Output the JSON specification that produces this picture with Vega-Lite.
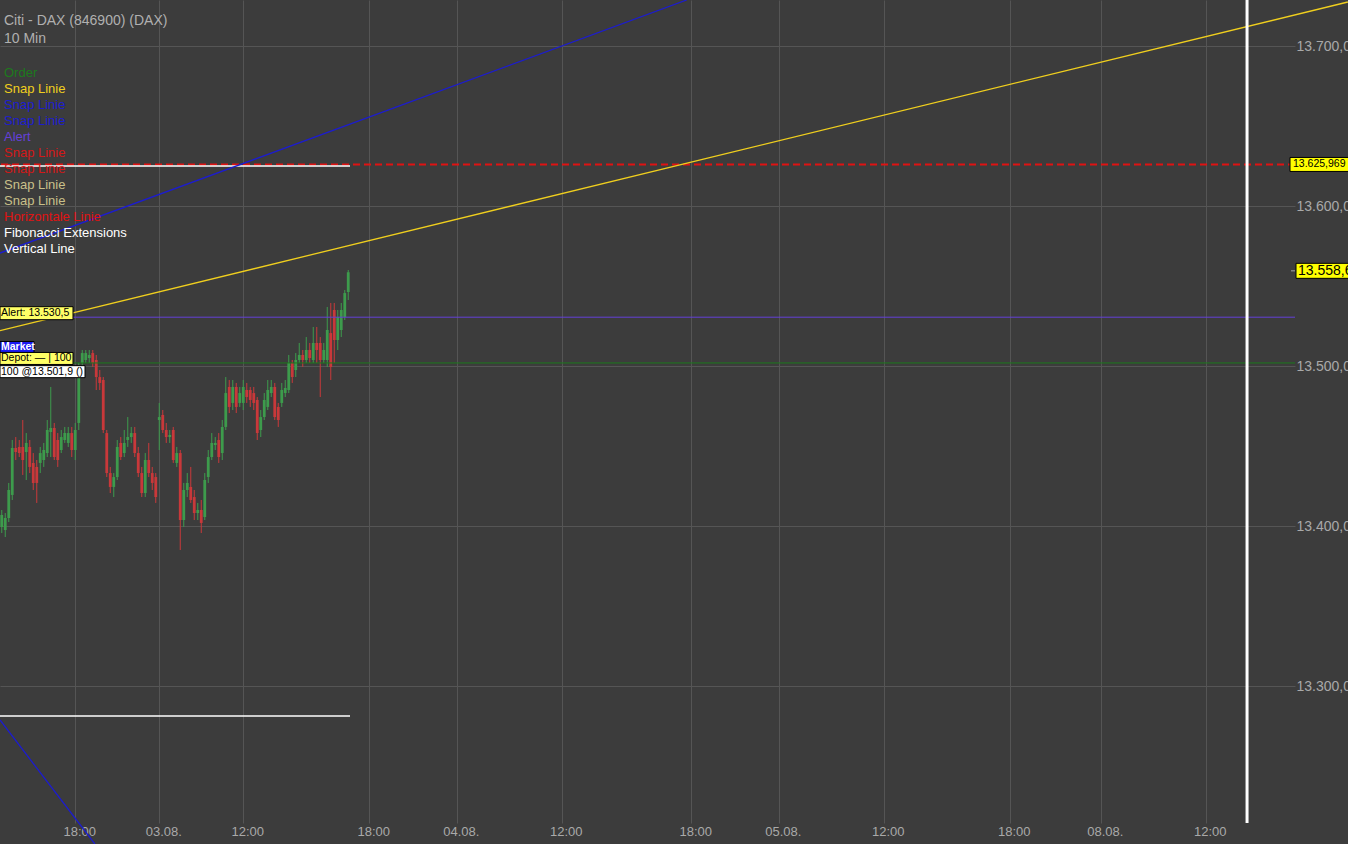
{
  "$schema": "https://vega.github.io/schema/vega-lite/v6.json",
  "width": 1295,
  "height": 823,
  "autosize": {"type": "none"},
  "padding": {"left": 0, "top": 0, "right": 53, "bottom": 21},
  "background": "#3c3c3c",
  "config": {
    "view": {"stroke": null},
    "font": "Liberation Sans",
    "axis": {"grid": true, "gridColor": "#555555", "gridWidth": 1, "ticks": false, "tickSize": 0, "domain": false, "labelColor": "#a9a9a9", "labelFont": "Liberation Sans"},
    "axisX": {"labelFontSize": 13, "labelPadding": 2, "labelOffset": 4},
    "axisY": {"labelFontSize": 14, "labelPadding": 1, "labelAlign": "left", "labelBaseline": "middle"}
  },
  "datasets": {
    "candles": [
      {"x":0,"o":13399.4,"h":13410.0,"l":13395.6,"c":13406.9},
      {"x":1,"o":13397.5,"h":13408.1,"l":13393.1,"c":13405.0},
      {"x":2,"o":13405.0,"h":13426.9,"l":13402.5,"c":13422.5},
      {"x":3,"o":13419.4,"h":13453.75,"l":13416.25,"c":13448.75},
      {"x":4,"o":13448.75,"h":13455.6,"l":13441.25,"c":13446.25},
      {"x":5,"o":13449.4,"h":13453.75,"l":13443.1,"c":13445.6},
      {"x":6,"o":13449.4,"h":13466.25,"l":13431.9,"c":13441.25},
      {"x":7,"o":13446.25,"h":13458.1,"l":13428.75,"c":13451.9},
      {"x":8,"o":13449.4,"h":13453.75,"l":13433.1,"c":13436.9},
      {"x":9,"o":13439.4,"h":13445.6,"l":13422.5,"c":13426.9},
      {"x":10,"o":13436.9,"h":13441.25,"l":13414.4,"c":13426.9},
      {"x":11,"o":13439.4,"h":13449.4,"l":13433.1,"c":13445.6},
      {"x":12,"o":13441.25,"h":13451.9,"l":13436.9,"c":13447.5},
      {"x":13,"o":13445.6,"h":13466.25,"l":13443.1,"c":13460.0},
      {"x":14,"o":13458.75,"h":13486.9,"l":13443.1,"c":13461.25},
      {"x":15,"o":13461.25,"h":13464.4,"l":13441.25,"c":13443.1},
      {"x":16,"o":13453.75,"h":13458.1,"l":13436.9,"c":13441.25},
      {"x":17,"o":13447.5,"h":13460.0,"l":13445.6,"c":13455.6},
      {"x":18,"o":13453.75,"h":13461.9,"l":13451.9,"c":13458.1},
      {"x":19,"o":13451.9,"h":13461.9,"l":13449.4,"c":13458.1},
      {"x":20,"o":13458.1,"h":13461.9,"l":13443.1,"c":13447.5},
      {"x":21,"o":13447.5,"h":13464.4,"l":13441.25,"c":13460.0},
      {"x":22,"o":13464.4,"h":13501.9,"l":13460.0,"c":13497.5},
      {"x":23,"o":13501.9,"h":13510.0,"l":13497.5,"c":13508.1},
      {"x":24,"o":13503.75,"h":13510.0,"l":13501.9,"c":13508.1},
      {"x":25,"o":13505.0,"h":13510.0,"l":13501.9,"c":13506.9},
      {"x":26,"o":13508.1,"h":13510.0,"l":13499.4,"c":13501.9},
      {"x":27,"o":13503.75,"h":13506.9,"l":13485.0,"c":13493.1},
      {"x":28,"o":13493.1,"h":13497.5,"l":13485.0,"c":13489.4},
      {"x":29,"o":13491.25,"h":13493.1,"l":13458.1,"c":13460.0},
      {"x":30,"o":13458.1,"h":13460.0,"l":13430.6,"c":13433.1},
      {"x":31,"o":13433.1,"h":13436.9,"l":13420.6,"c":13424.4},
      {"x":32,"o":13424.4,"h":13433.1,"l":13418.1,"c":13430.6},
      {"x":33,"o":13430.6,"h":13453.75,"l":13428.75,"c":13449.4},
      {"x":34,"o":13451.9,"h":13455.6,"l":13441.25,"c":13443.1},
      {"x":35,"o":13445.6,"h":13460.0,"l":13443.1,"c":13451.9},
      {"x":36,"o":13453.75,"h":13468.1,"l":13449.4,"c":13455.6},
      {"x":37,"o":13455.6,"h":13461.9,"l":13451.9,"c":13458.1},
      {"x":38,"o":13458.1,"h":13461.9,"l":13443.1,"c":13445.6},
      {"x":39,"o":13445.6,"h":13449.4,"l":13430.6,"c":13433.1},
      {"x":40,"o":13433.1,"h":13436.9,"l":13418.1,"c":13420.6},
      {"x":41,"o":13420.6,"h":13445.6,"l":13418.1,"c":13441.25},
      {"x":42,"o":13441.25,"h":13451.9,"l":13430.6,"c":13433.1},
      {"x":43,"o":13433.1,"h":13436.9,"l":13422.5,"c":13426.9},
      {"x":44,"o":13430.6,"h":13433.1,"l":13414.4,"c":13418.1},
      {"x":45,"o":13466.25,"h":13476.9,"l":13447.5,"c":13468.1},
      {"x":46,"o":13469.4,"h":13472.5,"l":13458.1,"c":13460.0},
      {"x":47,"o":13460.0,"h":13464.4,"l":13451.9,"c":13455.6},
      {"x":48,"o":13455.6,"h":13460.0,"l":13451.9,"c":13456.9},
      {"x":49,"o":13460.0,"h":13461.9,"l":13439.4,"c":13441.25},
      {"x":50,"o":13439.4,"h":13449.4,"l":13436.9,"c":13445.6},
      {"x":51,"o":13445.6,"h":13447.5,"l":13385.0,"c":13403.75},
      {"x":52,"o":13403.75,"h":13426.9,"l":13399.4,"c":13422.5},
      {"x":53,"o":13422.5,"h":13433.1,"l":13418.1,"c":13426.9},
      {"x":54,"o":13424.4,"h":13436.9,"l":13414.4,"c":13416.25},
      {"x":55,"o":13418.1,"h":13422.5,"l":13403.75,"c":13408.1},
      {"x":56,"o":13408.1,"h":13414.4,"l":13403.75,"c":13410.0},
      {"x":57,"o":13410.0,"h":13416.25,"l":13395.6,"c":13401.9},
      {"x":58,"o":13405.6,"h":13433.1,"l":13403.75,"c":13428.75},
      {"x":59,"o":13430.6,"h":13447.5,"l":13426.9,"c":13443.1},
      {"x":60,"o":13443.1,"h":13458.1,"l":13441.25,"c":13451.9},
      {"x":61,"o":13450.6,"h":13455.6,"l":13447.5,"c":13451.9},
      {"x":62,"o":13453.75,"h":13458.1,"l":13439.4,"c":13443.1},
      {"x":63,"o":13445.6,"h":13466.25,"l":13441.25,"c":13461.9},
      {"x":64,"o":13461.9,"h":13493.1,"l":13460.0,"c":13483.1},
      {"x":65,"o":13486.9,"h":13491.25,"l":13470.6,"c":13474.4},
      {"x":66,"o":13476.9,"h":13491.25,"l":13472.5,"c":13486.9},
      {"x":67,"o":13486.9,"h":13489.4,"l":13470.6,"c":13474.4},
      {"x":68,"o":13476.9,"h":13486.9,"l":13474.4,"c":13483.1},
      {"x":69,"o":13476.9,"h":13491.25,"l":13472.5,"c":13486.9},
      {"x":70,"o":13485.0,"h":13489.4,"l":13476.9,"c":13480.6},
      {"x":71,"o":13485.0,"h":13486.9,"l":13474.4,"c":13478.75},
      {"x":72,"o":13483.1,"h":13486.9,"l":13472.5,"c":13476.9},
      {"x":73,"o":13478.75,"h":13480.6,"l":13453.75,"c":13458.1},
      {"x":74,"o":13460.0,"h":13472.5,"l":13455.6,"c":13468.1},
      {"x":75,"o":13468.1,"h":13483.1,"l":13466.25,"c":13478.75},
      {"x":76,"o":13474.4,"h":13491.25,"l":13472.5,"c":13485.0},
      {"x":77,"o":13483.1,"h":13491.25,"l":13480.6,"c":13486.9},
      {"x":78,"o":13486.9,"h":13489.4,"l":13466.25,"c":13468.1},
      {"x":79,"o":13474.4,"h":13476.9,"l":13461.9,"c":13466.25},
      {"x":80,"o":13476.9,"h":13489.4,"l":13474.4,"c":13485.0},
      {"x":81,"o":13483.1,"h":13491.25,"l":13480.6,"c":13486.25},
      {"x":82,"o":13485.0,"h":13506.9,"l":13483.1,"c":13501.9},
      {"x":83,"o":13501.9,"h":13503.75,"l":13489.4,"c":13493.1},
      {"x":84,"o":13497.5,"h":13508.1,"l":13493.1,"c":13503.75},
      {"x":85,"o":13503.75,"h":13514.4,"l":13501.9,"c":13506.9},
      {"x":86,"o":13506.9,"h":13510.0,"l":13499.4,"c":13503.75},
      {"x":87,"o":13503.75,"h":13518.1,"l":13501.9,"c":13510.0},
      {"x":88,"o":13510.0,"h":13514.4,"l":13501.9,"c":13505.0},
      {"x":89,"o":13503.75,"h":13524.4,"l":13501.9,"c":13514.4},
      {"x":90,"o":13514.4,"h":13524.4,"l":13501.9,"c":13510.0},
      {"x":91,"o":13514.4,"h":13518.1,"l":13480.6,"c":13503.75},
      {"x":92,"o":13503.75,"h":13514.4,"l":13501.9,"c":13510.0},
      {"x":93,"o":13503.75,"h":13536.9,"l":13499.4,"c":13522.5},
      {"x":94,"o":13520.6,"h":13539.4,"l":13491.25,"c":13499.4},
      {"x":95,"o":13535.0,"h":13539.4,"l":13501.9,"c":13516.25},
      {"x":96,"o":13516.25,"h":13535.0,"l":13510.0,"c":13530.6},
      {"x":97,"o":13522.5,"h":13539.4,"l":13518.1,"c":13535.0},
      {"x":98,"o":13530.6,"h":13547.5,"l":13528.75,"c":13545.6},
      {"x":99,"o":13546.25,"h":13560.0,"l":13541.25,"c":13558.6}
    ],
    "lines": [
      {"name":"Snap Linie|1","x":-0.5,"p":13522.1},
      {"name":"Snap Linie|1","x":384.6,"p":13727.5},
      {"name":"Snap Linie|2","x":-0.5,"p":13570.6},
      {"name":"Snap Linie|2","x":195.7,"p":13728.75},
      {"name":"Snap Linie|3","x":-0.5,"p":13278.75},
      {"name":"Snap Linie|3","x":26.6,"p":13201.25}
    ],
    "levels": [
      {"name":"Order","p":13501.9},
      {"name":"Alert","p":13530.5},
      {"name":"Horizontale Linie","p":13625.969}
    ],
    "fib": [
      {"name":"Fibonacci Extensions","x":-0.5,"x2":99.5,"p":13625.0},
      {"name":"Fibonacci Extensions","x":-0.5,"x2":99.5,"p":13281.25}
    ],
    "vline": [
      {"name":"Vertical Line","x":355.8}
    ],
    "tags": [
      {"key":"level","p":13625.969,"text":"13.625,969"},
      {"key":"last","p":13558.6,"text":"13.558,60"},
      {"key":"alert","p":13530.5,"text":"Alert: 13.530,5"},
      {"key":"market","p":13501.9,"text":"Market"},
      {"key":"depot","p":13501.9,"text":"Depot: — | 100"},
      {"key":"pos","p":13501.9,"text":"100 @13.501,9 ()"}
    ]
  },
  "layer": [
    {
      "data": {"name": "candles"},
      "mark": {"type": "rule", "strokeWidth": 1},
      "encoding": {
        "x": {"field":"x","type":"quantitative","title":null,"scale":{"domain":[-0.5,369.5],"nice":false,"zero":false,"padding":0},"axis":{"values":[21,45,69,105,130,160,197,222,252,288,314,344],"labelExpr":"['18:00','03.08.','12:00','18:00','04.08.','12:00','18:00','05.08.','12:00','18:00','08.08.','12:00'][indexof([21,45,69,105,130,160,197,222,252,288,314,344], datum.value)]"}},
        "y": {"field":"l","type":"quantitative","title":null,"scale":{"domain":[13214.375,13728.75],"nice":false,"zero":false},"axis":{"orient":"right","values":[13300,13400,13500,13600,13700],"labelExpr":"replace(replace(replace(format(datum.value, ',.2f'), ',', '_'), '.', ','), '_', '.')"}},
        "y2": {"field":"h"},
        "color": {"condition": {"test": "datum.c >= datum.o", "value": "#3d9b4c"}, "value": "#c9383a"}
      }
    },
    {
      "data": {"name": "candles"},
      "mark": {"type": "bar", "size": 2.8},
      "encoding": {
        "x": {"field":"x","type":"quantitative","title":null,"scale":{"domain":[-0.5,369.5],"nice":false,"zero":false,"padding":0},"axis":{"values":[21,45,69,105,130,160,197,222,252,288,314,344],"labelExpr":"['18:00','03.08.','12:00','18:00','04.08.','12:00','18:00','05.08.','12:00','18:00','08.08.','12:00'][indexof([21,45,69,105,130,160,197,222,252,288,314,344], datum.value)]"}},
        "y": {"field":"o","type":"quantitative","title":null,"scale":{"domain":[13214.375,13728.75],"nice":false,"zero":false},"axis":{"orient":"right","values":[13300,13400,13500,13600,13700],"labelExpr":"replace(replace(replace(format(datum.value, ',.2f'), ',', '_'), '.', ','), '_', '.')"}},
        "y2": {"field":"c"},
        "color": {"condition": {"test": "datum.c >= datum.o", "value": "#3d9b4c"}, "value": "#c9383a"}
      }
    },
    {
      "data": {"name": "levels"},
      "transform": [{"filter": "datum.name == 'Order' || datum.name == 'Alert'"}],
      "mark": {"type": "rule", "strokeWidth": 1},
      "encoding": {
        "y": {"field":"p","type":"quantitative","title":null,"scale":{"domain":[13214.375,13728.75],"nice":false,"zero":false},"axis":{"orient":"right","values":[13300,13400,13500,13600,13700],"labelExpr":"replace(replace(replace(format(datum.value, ',.2f'), ',', '_'), '.', ','), '_', '.')"}},
        "color": {"field":"name","type":"nominal","scale":{"domain":["Order","Snap Linie|1","Snap Linie|2","Snap Linie|3","Alert","Snap Linie|4","Snap Linie|5","Snap Linie|6","Snap Linie|7","Horizontale Linie","Fibonacci Extensions","Vertical Line"],"range":["#1c7a1c","#f0cf1e","#1c1cd0","#1c1cd0","#6440d8","#d31818","#d31818","#c9c08a","#c9c08a","#e01212","#ffffff","#ffffff"]},"legend":{"orient":"none","legendX":4,"legendY":14,"title":["Citi - DAX (846900) (DAX)","10 Min"],"titleFontSize":14,"titleFontWeight":"normal","titleColor":"#b0b0b0","titleFont":"Liberation Sans","titleLineHeight":18,"titleBaseline":"top","titlePadding":20,"labelFontSize":13,"labelFont":"Liberation Sans","labelExpr":"split(datum.label, '|')[0]","labelLimit":300,"symbolSize":0,"symbolOpacity":0,"symbolStrokeWidth":0,"labelOffset":-13,"padding":0,"rowPadding":2,"encode":{"labels":{"update":{"fill":{"scale":"color","field":"value"}}}}}}
      }
    },
    {
      "data": {"name": "levels"},
      "transform": [{"filter": "datum.name == 'Horizontale Linie'"}],
      "mark": {"type": "rule", "strokeWidth": 2, "strokeDash": [7, 4]},
      "encoding": {
        "y": {"field":"p","type":"quantitative","title":null,"scale":{"domain":[13214.375,13728.75],"nice":false,"zero":false},"axis":{"orient":"right","values":[13300,13400,13500,13600,13700],"labelExpr":"replace(replace(replace(format(datum.value, ',.2f'), ',', '_'), '.', ','), '_', '.')"}},
        "color": {"field":"name","type":"nominal","scale":{"domain":["Order","Snap Linie|1","Snap Linie|2","Snap Linie|3","Alert","Snap Linie|4","Snap Linie|5","Snap Linie|6","Snap Linie|7","Horizontale Linie","Fibonacci Extensions","Vertical Line"],"range":["#1c7a1c","#f0cf1e","#1c1cd0","#1c1cd0","#6440d8","#d31818","#d31818","#c9c08a","#c9c08a","#e01212","#ffffff","#ffffff"]},"legend":{"orient":"none","legendX":4,"legendY":14,"title":["Citi - DAX (846900) (DAX)","10 Min"],"titleFontSize":14,"titleFontWeight":"normal","titleColor":"#b0b0b0","titleFont":"Liberation Sans","titleLineHeight":18,"titleBaseline":"top","titlePadding":20,"labelFontSize":13,"labelFont":"Liberation Sans","labelExpr":"split(datum.label, '|')[0]","labelLimit":300,"symbolSize":0,"symbolOpacity":0,"symbolStrokeWidth":0,"labelOffset":-13,"padding":0,"rowPadding":2,"encode":{"labels":{"update":{"fill":{"scale":"color","field":"value"}}}}}}
      }
    },
    {
      "data": {"name": "fib"},
      "mark": {"type": "rule", "strokeWidth": 1.5},
      "encoding": {
        "x": {"field":"x","type":"quantitative","title":null,"scale":{"domain":[-0.5,369.5],"nice":false,"zero":false,"padding":0},"axis":{"values":[21,45,69,105,130,160,197,222,252,288,314,344],"labelExpr":"['18:00','03.08.','12:00','18:00','04.08.','12:00','18:00','05.08.','12:00','18:00','08.08.','12:00'][indexof([21,45,69,105,130,160,197,222,252,288,314,344], datum.value)]"}},
        "x2": {"field":"x2"},
        "y": {"field":"p","type":"quantitative","title":null,"scale":{"domain":[13214.375,13728.75],"nice":false,"zero":false},"axis":{"orient":"right","values":[13300,13400,13500,13600,13700],"labelExpr":"replace(replace(replace(format(datum.value, ',.2f'), ',', '_'), '.', ','), '_', '.')"}},
        "color": {"field":"name","type":"nominal","scale":{"domain":["Order","Snap Linie|1","Snap Linie|2","Snap Linie|3","Alert","Snap Linie|4","Snap Linie|5","Snap Linie|6","Snap Linie|7","Horizontale Linie","Fibonacci Extensions","Vertical Line"],"range":["#1c7a1c","#f0cf1e","#1c1cd0","#1c1cd0","#6440d8","#d31818","#d31818","#c9c08a","#c9c08a","#e01212","#ffffff","#ffffff"]},"legend":{"orient":"none","legendX":4,"legendY":14,"title":["Citi - DAX (846900) (DAX)","10 Min"],"titleFontSize":14,"titleFontWeight":"normal","titleColor":"#b0b0b0","titleFont":"Liberation Sans","titleLineHeight":18,"titleBaseline":"top","titlePadding":20,"labelFontSize":13,"labelFont":"Liberation Sans","labelExpr":"split(datum.label, '|')[0]","labelLimit":300,"symbolSize":0,"symbolOpacity":0,"symbolStrokeWidth":0,"labelOffset":-13,"padding":0,"rowPadding":2,"encode":{"labels":{"update":{"fill":{"scale":"color","field":"value"}}}}}}
      }
    },
    {
      "data": {"name": "lines"},
      "mark": {"type": "line", "strokeWidth": 1.3, "clip": false},
      "encoding": {
        "x": {"field":"x","type":"quantitative","title":null,"scale":{"domain":[-0.5,369.5],"nice":false,"zero":false,"padding":0},"axis":{"values":[21,45,69,105,130,160,197,222,252,288,314,344],"labelExpr":"['18:00','03.08.','12:00','18:00','04.08.','12:00','18:00','05.08.','12:00','18:00','08.08.','12:00'][indexof([21,45,69,105,130,160,197,222,252,288,314,344], datum.value)]"}},
        "y": {"field":"p","type":"quantitative","title":null,"scale":{"domain":[13214.375,13728.75],"nice":false,"zero":false},"axis":{"orient":"right","values":[13300,13400,13500,13600,13700],"labelExpr":"replace(replace(replace(format(datum.value, ',.2f'), ',', '_'), '.', ','), '_', '.')"}},
        "color": {"field":"name","type":"nominal","scale":{"domain":["Order","Snap Linie|1","Snap Linie|2","Snap Linie|3","Alert","Snap Linie|4","Snap Linie|5","Snap Linie|6","Snap Linie|7","Horizontale Linie","Fibonacci Extensions","Vertical Line"],"range":["#1c7a1c","#f0cf1e","#1c1cd0","#1c1cd0","#6440d8","#d31818","#d31818","#c9c08a","#c9c08a","#e01212","#ffffff","#ffffff"]},"legend":{"orient":"none","legendX":4,"legendY":14,"title":["Citi - DAX (846900) (DAX)","10 Min"],"titleFontSize":14,"titleFontWeight":"normal","titleColor":"#b0b0b0","titleFont":"Liberation Sans","titleLineHeight":18,"titleBaseline":"top","titlePadding":20,"labelFontSize":13,"labelFont":"Liberation Sans","labelExpr":"split(datum.label, '|')[0]","labelLimit":300,"symbolSize":0,"symbolOpacity":0,"symbolStrokeWidth":0,"labelOffset":-13,"padding":0,"rowPadding":2,"encode":{"labels":{"update":{"fill":{"scale":"color","field":"value"}}}}}}
      }
    },
    {
      "data": {"name": "vline"},
      "mark": {"type": "rule", "strokeWidth": 3},
      "encoding": {
        "x": {"field":"x","type":"quantitative","title":null,"scale":{"domain":[-0.5,369.5],"nice":false,"zero":false,"padding":0},"axis":{"values":[21,45,69,105,130,160,197,222,252,288,314,344],"labelExpr":"['18:00','03.08.','12:00','18:00','04.08.','12:00','18:00','05.08.','12:00','18:00','08.08.','12:00'][indexof([21,45,69,105,130,160,197,222,252,288,314,344], datum.value)]"}},
        "color": {"field":"name","type":"nominal","scale":{"domain":["Order","Snap Linie|1","Snap Linie|2","Snap Linie|3","Alert","Snap Linie|4","Snap Linie|5","Snap Linie|6","Snap Linie|7","Horizontale Linie","Fibonacci Extensions","Vertical Line"],"range":["#1c7a1c","#f0cf1e","#1c1cd0","#1c1cd0","#6440d8","#d31818","#d31818","#c9c08a","#c9c08a","#e01212","#ffffff","#ffffff"]},"legend":{"orient":"none","legendX":4,"legendY":14,"title":["Citi - DAX (846900) (DAX)","10 Min"],"titleFontSize":14,"titleFontWeight":"normal","titleColor":"#b0b0b0","titleFont":"Liberation Sans","titleLineHeight":18,"titleBaseline":"top","titlePadding":20,"labelFontSize":13,"labelFont":"Liberation Sans","labelExpr":"split(datum.label, '|')[0]","labelLimit":300,"symbolSize":0,"symbolOpacity":0,"symbolStrokeWidth":0,"labelOffset":-13,"padding":0,"rowPadding":2,"encode":{"labels":{"update":{"fill":{"scale":"color","field":"value"}}}}}}
      }
    },
    {
      "data": {"name": "tags"},
      "transform": [{"filter": "datum.key == 'level'"}],
      "layer": [
        {"mark": {"type": "tick", "orient": "horizontal", "size": 60, "thickness": 14, "xOffset": 25, "color": "#ffff00", "stroke": "#000000", "strokeWidth": 1, "opacity": 1, "clip": false},
         "encoding": {"x": {"value": "width"}, "y": {"field":"p","type":"quantitative","title":null,"scale":{"domain":[13214.375,13728.75],"nice":false,"zero":false},"axis":{"orient":"right","values":[13300,13400,13500,13600,13700],"labelExpr":"replace(replace(replace(format(datum.value, ',.2f'), ',', '_'), '.', ','), '_', '.')"}}}},
        {"mark": {"type": "text", "align": "left", "baseline": "middle", "dx": -2, "fontSize": 10.5, "font": "Liberation Sans", "color": "#000000", "clip": false},
         "encoding": {"x": {"value": "width"}, "y": {"field":"p","type":"quantitative","title":null,"scale":{"domain":[13214.375,13728.75],"nice":false,"zero":false},"axis":{"orient":"right","values":[13300,13400,13500,13600,13700],"labelExpr":"replace(replace(replace(format(datum.value, ',.2f'), ',', '_'), '.', ','), '_', '.')"}}, "text": {"field": "text"}}}
      ]
    },
    {
      "data": {"name": "tags"},
      "transform": [{"filter": "datum.key == 'last'"}],
      "layer": [
        {"mark": {"type": "tick", "orient": "horizontal", "size": 4, "thickness": 1, "xOffset": -2, "yOffset": -1.4, "color": "#a9a9a9", "opacity": 1, "clip": false},
         "encoding": {"x": {"value": "width"}, "y": {"field":"p","type":"quantitative","title":null,"scale":{"domain":[13214.375,13728.75],"nice":false,"zero":false},"axis":{"orient":"right","values":[13300,13400,13500,13600,13700],"labelExpr":"replace(replace(replace(format(datum.value, ',.2f'), ',', '_'), '.', ','), '_', '.')"}}}},
        {"mark": {"type": "tick", "orient": "horizontal", "size": 60, "thickness": 15, "xOffset": 31, "yOffset": -1.4, "color": "#ffff00", "stroke": "#000000", "strokeWidth": 1, "opacity": 1, "clip": false},
         "encoding": {"x": {"value": "width"}, "y": {"field":"p","type":"quantitative","title":null,"scale":{"domain":[13214.375,13728.75],"nice":false,"zero":false},"axis":{"orient":"right","values":[13300,13400,13500,13600,13700],"labelExpr":"replace(replace(replace(format(datum.value, ',.2f'), ',', '_'), '.', ','), '_', '.')"}}}},
        {"mark": {"type": "text", "align": "left", "baseline": "middle", "dx": 3, "yOffset": -1.4, "fontSize": 14, "font": "Liberation Sans", "color": "#000000", "clip": false},
         "encoding": {"x": {"value": "width"}, "y": {"field":"p","type":"quantitative","title":null,"scale":{"domain":[13214.375,13728.75],"nice":false,"zero":false},"axis":{"orient":"right","values":[13300,13400,13500,13600,13700],"labelExpr":"replace(replace(replace(format(datum.value, ',.2f'), ',', '_'), '.', ','), '_', '.')"}}, "text": {"field": "text"}}}
      ]
    },
    {
      "data": {"name": "tags"},
      "transform": [{"filter": "datum.key == 'alert'"}],
      "layer": [
        {"mark": {"type": "tick", "orient": "horizontal", "size": 73, "thickness": 13, "xOffset": 36.5, "yOffset": -4, "color": "#ffff66", "stroke": "#000000", "strokeWidth": 1, "opacity": 1},
         "encoding": {"x": {"value": 0}, "y": {"field":"p","type":"quantitative","title":null,"scale":{"domain":[13214.375,13728.75],"nice":false,"zero":false},"axis":{"orient":"right","values":[13300,13400,13500,13600,13700],"labelExpr":"replace(replace(replace(format(datum.value, ',.2f'), ',', '_'), '.', ','), '_', '.')"}}}},
        {"mark": {"type": "text", "align": "left", "baseline": "middle", "dx": 1, "yOffset": -4, "fontSize": 10.5, "font": "Liberation Sans", "color": "#000000"},
         "encoding": {"x": {"value": 0}, "y": {"field":"p","type":"quantitative","title":null,"scale":{"domain":[13214.375,13728.75],"nice":false,"zero":false},"axis":{"orient":"right","values":[13300,13400,13500,13600,13700],"labelExpr":"replace(replace(replace(format(datum.value, ',.2f'), ',', '_'), '.', ','), '_', '.')"}}, "text": {"field": "text"}}}
      ]
    },
    {
      "data": {"name": "tags"},
      "transform": [{"filter": "datum.key == 'market'"}],
      "layer": [
        {"mark": {"type": "tick", "orient": "horizontal", "size": 34, "thickness": 11, "xOffset": 17, "yOffset": -16, "color": "#1a1af2", "stroke": "#000000", "strokeWidth": 1, "opacity": 1},
         "encoding": {"x": {"value": 0}, "y": {"field":"p","type":"quantitative","title":null,"scale":{"domain":[13214.375,13728.75],"nice":false,"zero":false},"axis":{"orient":"right","values":[13300,13400,13500,13600,13700],"labelExpr":"replace(replace(replace(format(datum.value, ',.2f'), ',', '_'), '.', ','), '_', '.')"}}}},
        {"mark": {"type": "text", "align": "left", "baseline": "middle", "dx": 1, "yOffset": -16, "fontSize": 10.5, "fontWeight": "bold", "font": "Liberation Sans", "color": "#ffffff"},
         "encoding": {"x": {"value": 0}, "y": {"field":"p","type":"quantitative","title":null,"scale":{"domain":[13214.375,13728.75],"nice":false,"zero":false},"axis":{"orient":"right","values":[13300,13400,13500,13600,13700],"labelExpr":"replace(replace(replace(format(datum.value, ',.2f'), ',', '_'), '.', ','), '_', '.')"}}, "text": {"field": "text"}}}
      ]
    },
    {
      "data": {"name": "tags"},
      "transform": [{"filter": "datum.key == 'depot'"}],
      "layer": [
        {"mark": {"type": "tick", "orient": "horizontal", "size": 73, "thickness": 12, "xOffset": 36.5, "yOffset": -4.5, "color": "#ffff66", "stroke": "#000000", "strokeWidth": 1, "opacity": 1},
         "encoding": {"x": {"value": 0}, "y": {"field":"p","type":"quantitative","title":null,"scale":{"domain":[13214.375,13728.75],"nice":false,"zero":false},"axis":{"orient":"right","values":[13300,13400,13500,13600,13700],"labelExpr":"replace(replace(replace(format(datum.value, ',.2f'), ',', '_'), '.', ','), '_', '.')"}}}},
        {"mark": {"type": "text", "align": "left", "baseline": "middle", "dx": 1, "yOffset": -4.5, "fontSize": 10.5, "font": "Liberation Sans", "color": "#000000"},
         "encoding": {"x": {"value": 0}, "y": {"field":"p","type":"quantitative","title":null,"scale":{"domain":[13214.375,13728.75],"nice":false,"zero":false},"axis":{"orient":"right","values":[13300,13400,13500,13600,13700],"labelExpr":"replace(replace(replace(format(datum.value, ',.2f'), ',', '_'), '.', ','), '_', '.')"}}, "text": {"field": "text"}}}
      ]
    },
    {
      "data": {"name": "tags"},
      "transform": [{"filter": "datum.key == 'pos'"}],
      "layer": [
        {"mark": {"type": "tick", "orient": "horizontal", "size": 85, "thickness": 12, "xOffset": 42.5, "yOffset": 8.7, "color": "#ffffff", "stroke": "#000000", "strokeWidth": 1, "opacity": 1},
         "encoding": {"x": {"value": 0}, "y": {"field":"p","type":"quantitative","title":null,"scale":{"domain":[13214.375,13728.75],"nice":false,"zero":false},"axis":{"orient":"right","values":[13300,13400,13500,13600,13700],"labelExpr":"replace(replace(replace(format(datum.value, ',.2f'), ',', '_'), '.', ','), '_', '.')"}}}},
        {"mark": {"type": "text", "align": "left", "baseline": "middle", "dx": 1, "yOffset": 8.7, "fontSize": 10.5, "font": "Liberation Sans", "color": "#000000"},
         "encoding": {"x": {"value": 0}, "y": {"field":"p","type":"quantitative","title":null,"scale":{"domain":[13214.375,13728.75],"nice":false,"zero":false},"axis":{"orient":"right","values":[13300,13400,13500,13600,13700],"labelExpr":"replace(replace(replace(format(datum.value, ',.2f'), ',', '_'), '.', ','), '_', '.')"}}, "text": {"field": "text"}}}
      ]
    }
  ]
}
